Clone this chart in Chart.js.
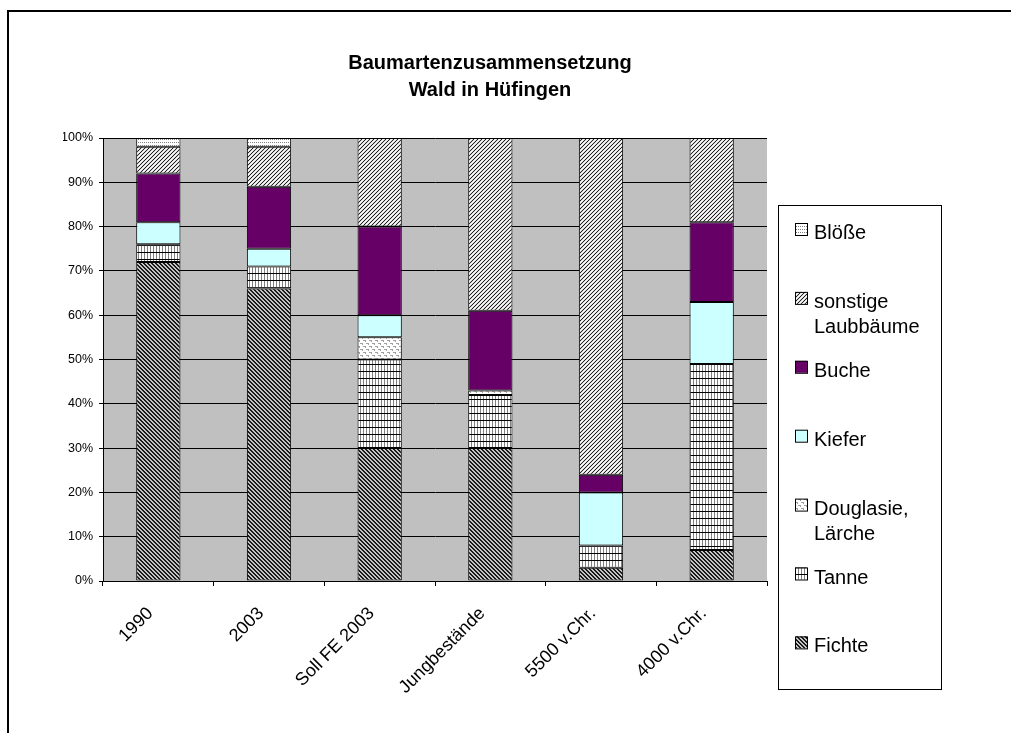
<!DOCTYPE html>
<html>
<head>
<meta charset="utf-8">
<script src="https://cdn.jsdelivr.net/npm/chart.js@4/dist/chart.umd.min.js"></script>
<style>
    html, body { margin: 0; padding: 0; background: #fff; }
    canvas { display: block; }
</style>
</head>
<body>
<canvas id="chart" width="1011" height="733"></canvas>
<script>
const categories = ['1990', '2003', 'Soll FE 2003', 'Jungbestände', '5500 v.Chr.', '4000 v.Chr.'];
const titleLines = ['Baumartenzusammensetzung', 'Wald in Hüfingen'];

// доли по породам, снизу вверх, в процентах
const fichte = [72, 66, 30, 30, 3, 7];
const tanne = [4, 5, 20, 12, 5, 42];
const douglasie = [0, 0, 5, 1, 0, 0];
const kiefer = [5, 4, 5, 0, 12, 14];
const buche = [11, 14, 20, 18, 4, 18];
const sonstige = [6, 9, 20, 39, 76, 19];
const bloesse = [2, 2, 0, 0, 0, 0];

const seriesNames = [['Fichte'], ['Tanne'], ['Douglasie,', 'Lärche'], ['Kiefer'], ['Buche'], ['sonstige', 'Laubbäume'], ['Blöße']];
const yTickValues = [0, 10, 20, 30, 40, 50, 60, 70, 80, 90, 100];

const FONT = '"Liberation Sans", Arial, sans-serif';
const ctx = document.getElementById('chart').getContext('2d');

// маленькая плитка для штриховки
function makePattern(w, h, bg, pixels) {
    const c = document.createElement('canvas');
    c.width = w;
    c.height = h;
    const g = c.getContext('2d');
    g.fillStyle = bg;
    g.fillRect(0, 0, w, h);
    for (let y = 0; y < h; y++) {
        for (let x = 0; x < w; x++) {
            const col = pixels(x, y);
            if (col) {
                g.fillStyle = col;
                g.fillRect(x, y, 1, 1);
            }
        }
    }
    return ctx.createPattern(c, 'repeat');
}

const fills = [
    makePattern(4, 4, '#c4c4c4', (x, y) => ((x - y + 8) % 4 < 2 ? '#1a1a1a' : null)), // Fichte
    makePattern(3, 7, '#fff', (x, y) => (y === 0 ? '#000' : (x === 0 ? '#808080' : null))), // Tanne
    makePattern(6, 6, '#fff', (x, y) => {
        if (y === 1 && x < 3) return '#a0a0a0';
        if (y === 2 && x === 2) return '#a0a0a0';
        if (y === 4 && x >= 3) return '#a0a0a0';
        if (y === 5 && x === 5) return '#a0a0a0';
        return null;
    }), // Douglasie
    '#CCFFFF', // Kiefer
    '#660066', // Buche
    makePattern(4, 4, '#d8d8d8', (x, y) => ((x + y) % 4 === 0 ? '#222' : ((x + y) % 4 === 2 ? '#fff' : null))), // sonstige
    makePattern(4, 3, '#fff', (x, y) => (y === 1 && x % 2 === 0 ? '#808080' : null)) // Blöße
];

const seriesData = [fichte, tanne, douglasie, kiefer, buche, sonstige, bloesse];

const datasets = seriesData.map((arr, i) => ({
    label: seriesNames[i].join(' '),
    data: arr,
    backgroundColor: fills[i],
    borderColor: '#000',
    borderWidth: 1,
    borderSkipped: false,
    categoryPercentage: 0.4,
    barPercentage: 1
}));

// фон, рамка, заголовок и легенда
const decor = {
    id: 'decor',
    beforeDraw(chart) {
        const c = chart.ctx;
        const a = chart.chartArea;
        c.save();
        c.fillStyle = '#fff';
        c.fillRect(0, 0, chart.width, chart.height);
        c.fillStyle = '#C0C0C0';
        c.fillRect(a.left, a.top, a.right - a.left, a.bottom - a.top);
        c.restore();
    },
    afterDraw(chart) {
        const c = chart.ctx;
        c.save();
        // рамка
        c.strokeStyle = '#000';
        c.lineWidth = 2;
        c.beginPath();
        c.moveTo(8, chart.height);
        c.lineTo(8, 11);
        c.lineTo(chart.width, 11);
        c.stroke();

        // заголовок
        c.fillStyle = '#000';
        c.font = 'bold 20px ' + FONT;
        c.textAlign = 'center';
        c.textBaseline = 'alphabetic';
        titleLines.forEach((t, i) => c.fillText(t, 490, 69 + i * 27));

        // легенда
        c.lineWidth = 1;
        c.strokeStyle = '#000';
        c.strokeRect(778.5, 205.5, 163, 484);
        c.font = '20px ' + FONT;
        c.textAlign = 'left';
        const ds = chart.data.datasets;
        for (let k = 0; k < ds.length; k++) {
            const i = ds.length - 1 - k;
            const base = 239 + k * 68.9;
            c.fillStyle = ds[i].backgroundColor;
            c.fillRect(795, base - 16, 12, 12);
            c.strokeRect(795.5, base - 15.5, 12, 12);
            c.fillStyle = '#000';
            seriesNames[i].forEach((line, j) => c.fillText(line, 814, base + j * 25.5));
        }
        c.restore();
    }
};

new Chart(ctx, {
    type: 'bar',
    data: {
        labels: categories,
        datasets: datasets
    },
    options: {
        responsive: false,
        animation: false,
        devicePixelRatio: 1,
        layout: {
            padding: { left: 63, top: 138, right: 244, bottom: 12 }
        },
        plugins: {
            legend: { display: false },
            title: { display: false },
            tooltip: { enabled: false }
        },
        scales: {
            x: {
                stacked: true,
                grid: { drawOnChartArea: false, drawTicks: true, tickLength: 5, color: '#000' },
                border: { display: true, color: '#000', width: 1 },
                ticks: {
                    color: '#000',
                    font: { family: FONT, size: 18 },
                    minRotation: 45,
                    maxRotation: 45,
                    padding: 17,
                    labelOffset: -8
                },
                afterFit(scale) { scale.height = 140; }
            },
            y: {
                stacked: true,
                min: 0,
                max: 100,
                afterBuildTicks(scale) {
                    scale.ticks = yTickValues.map(v => ({ value: v }));
                },
                grid: { color: '#000', tickLength: 4, lineWidth: 1 },
                border: { display: true, color: '#000', width: 1 },
                ticks: {
                    color: '#000',
                    font: { family: FONT, size: 12.5 },
                    padding: 6,
                    callback: v => v + '%'
                },
                afterFit(scale) { scale.width = 40; }
            }
        }
    },
    plugins: [decor]
});
</script>
</body>
</html>
